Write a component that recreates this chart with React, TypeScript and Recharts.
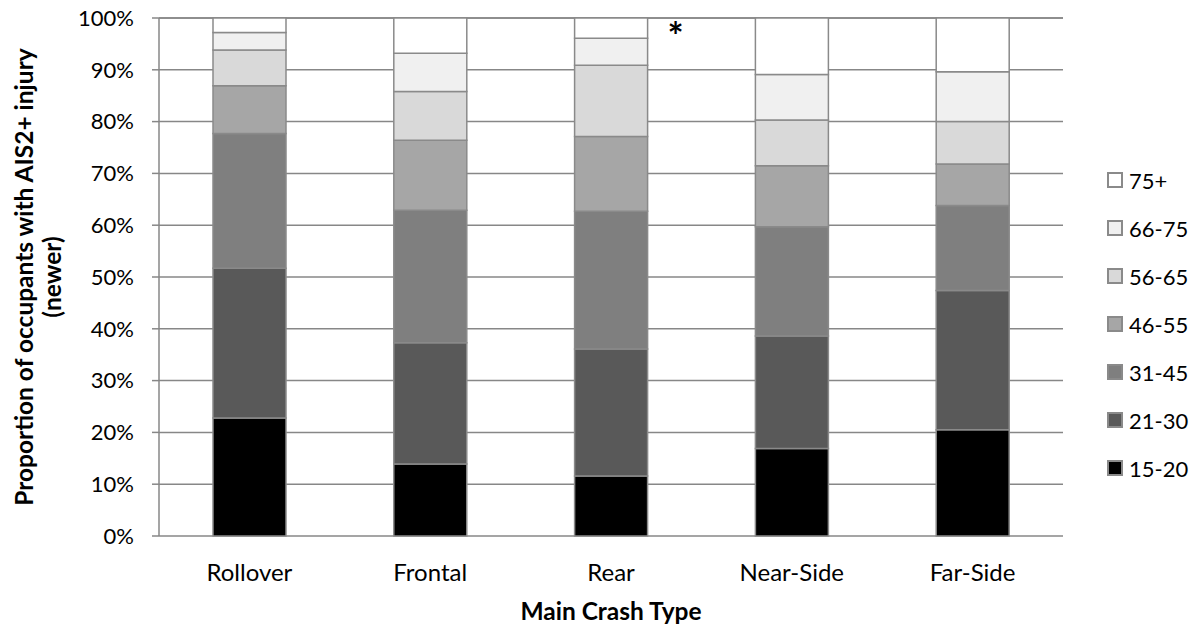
import React from 'react';
import { BarChart, Bar, XAxis, YAxis, CartesianGrid, Legend, ReferenceLine, LabelList } from 'recharts';

const categories = ['Rollover', 'Frontal', 'Rear', 'Near-Side', 'Far-Side'];
const ageGroups = ['15-20', '21-30', '31-45', '46-55', '56-65', '66-75', '75+'];
const s15_20 = [22.8, 13.9, 11.6, 16.9, 20.5];
const s21_30 = [28.9, 23.4, 24.5, 21.7, 26.9];
const s31_45 = [26.0, 25.6, 26.6, 21.1, 16.4];
const s46_55 = [9.2, 13.5, 14.4, 11.8, 8.0];
const s56_65 = [6.9, 9.4, 13.8, 8.8, 8.2];
const s66_75 = [3.4, 7.4, 5.2, 8.8, 9.6];
const s75plus = [2.8, 6.8, 3.9, 10.9, 10.4];
const yTicks = [0, 10, 20, 30, 40, 50, 60, 70, 80, 90, 100];
const boundaryTicks = [0, 1, 2, 3, 4, 5];
const markedCategory = 'Rear';

const seriesValues = [s15_20, s21_30, s31_45, s46_55, s56_65, s66_75, s75plus];
const colors = ['#000000', '#595959', '#7f7f7f', '#a6a6a6', '#d9d9d9', '#f0f0f0', '#ffffff'];

const data = categories.map((c, i) => {
  const row: any = { name: c };
  ageGroups.forEach((g, k) => {
    row[g] = seriesValues[k][i];
  });
  return row;
});

const FONT = 'Lato, "Open Sans", sans-serif';
const GRID = '#878787';
const BORDER = '#8a8a8a';

const renderLegend = () => (
  <div style={{ display: 'flex', flexDirection: 'column', fontFamily: FONT }}>
    {ageGroups
      .map((g, k) => ({ g, c: colors[k] }))
      .reverse()
      .map(({ g, c }) => (
        <div key={g} style={{ height: 48, display: 'flex', alignItems: 'center' }}>
          <span
            style={{
              display: 'inline-block',
              width: 12,
              height: 12,
              background: c,
              border: `2px solid ${BORDER}`,
              marginRight: 6,
            }}
          />
          <span style={{ fontSize: 22, color: '#000' }}>{g}</span>
        </div>
      ))}
  </div>
);

const YTitle = (props: any) => {
  const vb = props.viewBox || {};
  const cy = vb.y + vb.height / 2;
  const x1 = vb.x + 15;
  const x2 = vb.x + 43;
  return (
    <g fontFamily={FONT} fontWeight="bold" fontSize={24.5} fill="#000">
      <text x={x1} y={cy} textAnchor="middle" dominantBaseline="central" transform={`rotate(-90, ${x1}, ${cy})`}>
        Proportion of occupants with AIS2+ injury
      </text>
      <text x={x2} y={cy} textAnchor="middle" dominantBaseline="central" transform={`rotate(-90, ${x2}, ${cy})`}>
        (newer)
      </text>
    </g>
  );
};

const XTitle = (props: any) => {
  const vb = props.viewBox || {};
  return (
    <text
      x={vb.x + vb.width / 2}
      y={vb.y + 74}
      textAnchor="middle"
      dominantBaseline="central"
      fontFamily={FONT}
      fontWeight="bold"
      fontSize={24.5}
      fill="#000"
    >
      Main Crash Type
    </text>
  );
};

const Asterisk = (props: any) => {
  const { x, y, width, index } = props;
  if (categories[index] !== markedCategory) return null;
  return (
    <text
      x={x + width + 28}
      y={y + 32}
      textAnchor="middle"
      fontFamily={FONT}
      fontWeight="bold"
      fontSize={38}
      fill="#000"
    >
      *
    </text>
  );
};

export default function App() {
  return (
    <div style={{ fontFamily: FONT, marginTop: -8 }}>
      <BarChart
        width={1182}
        height={625}
        data={data}
        margin={{ top: 18, right: 37, bottom: 0, left: 0 }}
        barCategoryGap={0}
      >
        <CartesianGrid horizontal vertical={false} stroke={GRID} strokeWidth={1.5} xAxisId="cat" />
        <XAxis
          xAxisId="num"
          type="number"
          domain={[0, 5]}
          ticks={boundaryTicks}
          height={0}
          tickSize={8}
          tickFormatter={() => ''}
          stroke={GRID}
          strokeWidth={1.5}
          allowDataOverflow
        />
        <XAxis
          xAxisId="cat"
          dataKey="name"
          type="category"
          height={89}
          axisLine={false}
          tickLine={false}
          tickSize={0}
          tickMargin={28}
          tick={{ fill: '#000', fontSize: 24, fontFamily: FONT }}
          label={<XTitle />}
        />
        <YAxis
          domain={[0, 100]}
          ticks={yTicks}
          width={151}
          tickSize={7}
          tickMargin={18}
          tickFormatter={(v: number) => `${v}%`}
          tick={{ fill: '#000', fontSize: 22, fontFamily: FONT }}
          stroke={GRID}
          strokeWidth={1.5}
          interval={0}
          label={<YTitle />}
        />
        <ReferenceLine xAxisId="num" x={5} stroke={GRID} strokeWidth={1.5} />
        <Legend
          content={renderLegend}
          layout="vertical"
          align="right"
          verticalAlign="middle"
          wrapperStyle={{ left: 1099, top: 156, width: 90, right: 'auto' }}
        />
        {ageGroups.map((g, k) => (
          <Bar
            key={g}
            dataKey={g}
            stackId="a"
            xAxisId="cat"
            fill={colors[k]}
            stroke={BORDER}
            strokeWidth={1.5}
            barSize={73}
            isAnimationActive={false}
          >
            {k === ageGroups.length - 1 ? <LabelList dataKey={g} content={<Asterisk />} /> : null}
          </Bar>
        ))}
      </BarChart>
    </div>
  );
}
